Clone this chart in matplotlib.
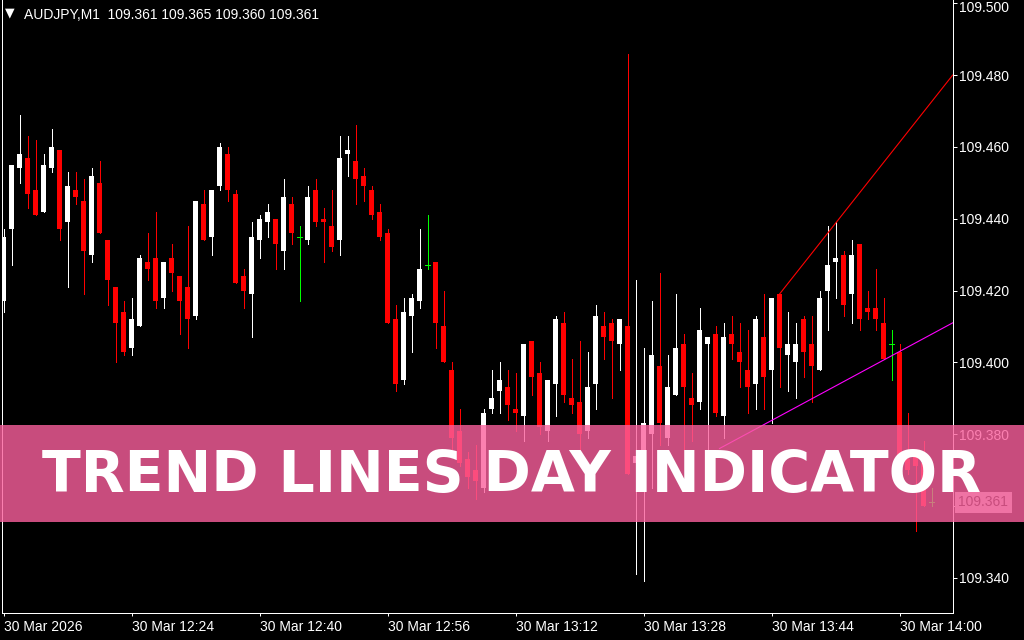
import matplotlib
matplotlib.use("Agg")
import numpy as np
import matplotlib.pyplot as plt
import matplotlib.transforms as mtransforms
from matplotlib.patches import Rectangle

plt.rcParams['font.family'] = ['Liberation Sans', 'DejaVu Sans']

W, H = 1024, 640

symbol = "AUDJPY,M1"
day_label = "30 Mar"
year_label = "2026"
first_minute = 12 * 60 + 8      # time of the first bar (12:08)
label_every = 16                # bars between time labels

# OHLC of the M1 bars, left to right
opens = [109.417, 109.437, 109.454, 109.457, 109.448, 109.442, 109.454, 109.459, 109.439, 109.448,
         109.445, 109.430, 109.450, 109.434, 109.421, 109.414, 109.404, 109.410, 109.428, 109.429,
         109.418, 109.429, 109.424, 109.421, 109.413, 109.444, 109.435, 109.449, 109.458, 109.447,
         109.424, 109.419, 109.434, 109.439, 109.440, 109.431, 109.444, 109.435, 109.434, 109.448,
         109.440, 109.438, 109.434, 109.458, 109.456, 109.452, 109.448, 109.442, 109.436, 109.412,
         109.395, 109.413, 109.417, 109.427, 109.428, 109.410, 109.398, 109.381, 109.373, 109.370,
         109.365, 109.387, 109.392, 109.393, 109.387, 109.385, 109.406, 109.397, 109.381, 109.394,
         109.411, 109.390, 109.389, 109.381, 109.394, 109.410, 109.411, 109.405, 109.410, 109.372,
         109.372, 109.380, 109.399, 109.379, 109.391, 109.405, 109.390, 109.389, 109.405, 109.408,
         109.385, 109.408, 109.403, 109.398, 109.394, 109.407, 109.398, 109.419, 109.402, 109.400,
         109.412, 109.405, 109.398, 109.420, 109.428, 109.430, 109.419, 109.433, 109.415, 109.415,
         109.411, 109.405, 109.403, 109.373, 109.374, 109.372, 109.361]
highs = [109.437, 109.455, 109.469, 109.463, 109.462, 109.458, 109.465, 109.459, 109.453, 109.453,
         109.451, 109.454, 109.456, 109.434, 109.421, 109.417, 109.418, 109.430, 109.436, 109.442,
         109.428, 109.433, 109.424, 109.438, 109.445, 109.448, 109.448, 109.461, 109.460, 109.448,
         109.426, 109.439, 109.441, 109.444, 109.440, 109.451, 109.446, 109.438, 109.449, 109.451,
         109.443, 109.448, 109.463, 109.463, 109.466, 109.454, 109.449, 109.444, 109.437, 109.416,
         109.418, 109.419, 109.437, 109.441, 109.428, 109.420, 109.400, 109.387, 109.375, 109.377,
         109.387, 109.398, 109.400, 109.398, 109.397, 109.405, 109.406, 109.400, 109.395, 109.413,
         109.414, 109.401, 109.406, 109.403, 109.416, 109.414, 109.412, 109.412, 109.486, 109.423,
         109.404, 109.417, 109.425, 109.402, 109.419, 109.408, 109.397, 109.415, 109.407, 109.410,
         109.411, 109.413, 109.411, 109.409, 109.413, 109.419, 109.418, 109.419, 109.414, 109.411,
         109.413, 109.413, 109.420, 109.438, 109.439, 109.431, 109.434, 109.433, 109.420, 109.426,
         109.418, 109.409, 109.405, 109.386, 109.376, 109.378, 109.365]
lows = [109.414, 109.427, 109.450, 109.443, 109.441, 109.442, 109.453, 109.434, 109.421, 109.444,
        109.419, 109.428, 109.436, 109.416, 109.400, 109.402, 109.402, 109.410, 109.423, 109.415,
        109.415, 109.420, 109.408, 109.404, 109.412, 109.434, 109.430, 109.448, 109.445, 109.422,
        109.415, 109.407, 109.429, 109.435, 109.426, 109.426, 109.433, 109.417, 109.433, 109.438,
        109.428, 109.431, 109.430, 109.452, 109.444, 109.445, 109.440, 109.434, 109.411, 109.392,
        109.394, 109.403, 109.415, 109.426, 109.404, 109.400, 109.376, 109.371, 109.365, 109.362,
        109.364, 109.386, 109.386, 109.384, 109.381, 109.378, 109.391, 109.380, 109.378, 109.385,
        109.389, 109.386, 109.376, 109.379, 109.387, 109.401, 109.390, 109.398, 109.369, 109.341,
        109.339, 109.365, 109.377, 109.377, 109.391, 109.376, 109.378, 109.387, 109.376, 109.385,
        109.379, 109.401, 109.393, 109.386, 109.387, 109.387, 109.383, 109.393, 109.392, 109.390,
        109.396, 109.389, 109.398, 109.409, 109.418, 109.413, 109.411, 109.409, 109.412, 109.409,
        109.401, 109.395, 109.372, 109.369, 109.353, 109.360, 109.360]
closes = [109.435, 109.455, 109.458, 109.447, 109.441, 109.455, 109.460, 109.437, 109.449, 109.446,
          109.431, 109.452, 109.436, 109.423, 109.411, 109.403, 109.412, 109.429, 109.426, 109.417,
          109.428, 109.425, 109.417, 109.412, 109.445, 109.434, 109.448, 109.460, 109.448, 109.422,
          109.420, 109.435, 109.440, 109.442, 109.433, 109.446, 109.436, 109.435, 109.446, 109.439,
          109.439, 109.432, 109.457, 109.459, 109.451, 109.449, 109.441, 109.435, 109.411, 109.394,
          109.414, 109.418, 109.426, 109.427, 109.411, 109.400, 109.379, 109.372, 109.368, 109.367,
          109.386, 109.390, 109.395, 109.388, 109.386, 109.405, 109.396, 109.382, 109.395, 109.412,
          109.391, 109.388, 109.380, 109.393, 109.413, 109.407, 109.406, 109.412, 109.369, 109.374,
          109.383, 109.402, 109.383, 109.393, 109.404, 109.393, 109.388, 109.409, 109.407, 109.386,
          109.407, 109.405, 109.400, 109.393, 109.412, 109.396, 109.418, 109.404, 109.405, 109.405,
          109.403, 109.399, 109.418, 109.427, 109.429, 109.416, 109.430, 109.412, 109.414, 109.412,
          109.401, 109.405, 109.373, 109.370, 109.371, 109.360, 109.361]

# trend lines drawn by the indicator (bar index, price)
upper_line_x = [97, 118.65]
upper_line_y = [109.419, 109.480]
lower_line_x = [89.5, 118.65]
lower_line_y = [109.376, 109.411]

price_ticks = [109.340, 109.360, 109.380, 109.400, 109.420, 109.440, 109.460, 109.480, 109.500]
banner_text = "TREND LINES DAY INDICATOR"

BULL = "#ffffff"
BEAR = "#ff0000"
DOJI = "#00ff00"
PX = 0.72  # one pixel in points at 100 dpi

o = np.array(opens)
h = np.array(highs)
l = np.array(lows)
c = np.array(closes)
x = np.arange(len(o))

fig = plt.figure(figsize=(W / 100, H / 100), dpi=100, facecolor="black")
ax = fig.add_axes([2 / W, 27 / H, 950.7 / W, 613 / H], facecolor="black")
ax.set_xlim(-0.1875, 118.65)
ax.set_ylim(109.3302, 109.5009)

# candles
half = 0.3125
for mask, col in ((c > o, BULL), (c < o, BEAR)):
    ax.vlines(x[mask], l[mask], h[mask], colors=col, lw=PX, antialiased=False)
    ax.bar(x[mask], np.abs(c[mask] - o[mask]), bottom=np.minimum(o, c)[mask],
           width=2 * half, color=col, linewidth=0, antialiased=False)
dj = c == o
ax.vlines(x[dj], l[dj], h[dj], colors=DOJI, lw=PX, antialiased=False)
ax.hlines(o[dj], x[dj] - half, x[dj] + half, colors=DOJI, lw=PX, antialiased=False)

# indicator lines
ax.plot(upper_line_x, upper_line_y, color="#ff0000", lw=0.8)
ax.plot(lower_line_x, lower_line_y, color="#ff00ff", lw=0.8)

# axes look like the terminal
for side in ("left", "right", "bottom"):
    ax.spines[side].set_color("white")
    ax.spines[side].set_linewidth(PX)
ax.spines["top"].set_visible(False)

ax.yaxis.tick_right()
ax.set_yticks(price_ticks)
ax.set_yticklabels(["%.3f" % p for p in price_ticks])
ax.tick_params(axis="y", colors="white", length=4 * PX, width=PX, pad=2, labelsize=10)
# top label sits a little lower so it is not cut by the window edge
top_lbl = ax.get_yticklabels()[-1]
top_lbl.set_transform(top_lbl.get_transform() +
                      mtransforms.ScaledTranslation(0, -3 / 100, fig.dpi_scale_trans))

tick_idx = list(range(0, len(o), label_every))
tick_lbl = []
for i in tick_idx:
    m = first_minute + i
    if i == 0:
        tick_lbl.append("%s %s" % (day_label, year_label))
    else:
        tick_lbl.append("%s %02d:%02d" % (day_label, m // 60, m % 60))
ax.set_xticks(tick_idx)
ax.set_xticklabels(tick_lbl)
ax.tick_params(axis="x", colors="white", length=3 * PX, width=PX, pad=3, labelsize=10)
for t in ax.get_xticklabels():
    t.set_ha("left")

# current price marker
ax.text(1.006, c[-1], "%.3f" % c[-1], transform=ax.get_yaxis_transform(),
        ha="left", va="center", fontsize=10, color="black",
        bbox=dict(boxstyle="square,pad=0.25", fc="#c0c0c0", ec="none"))

# header
fig.text(5 / W, 1 - 16 / H, "\u25bc", fontsize=9, color="white", family="DejaVu Sans")
fig.text(24 / W, 1 - 19 / H, "%s  %.3f %.3f %.3f %.3f" % (symbol, o[-1], h[-1], l[-1], c[-1]),
         fontsize=10, color="white")

# banner
fig.add_artist(Rectangle((0, 118 / H), 1, 97 / H, transform=fig.transFigure,
                         facecolor="#fb609d", edgecolor="none", alpha=0.8, zorder=10))
fig.text(511 / W, 1 - 491.7 / H, banner_text, ha="center", va="baseline",
         fontsize=41, fontweight="bold", family="DejaVu Sans", color="white", zorder=11)

fig.savefig("out.png", dpi=100, facecolor="black")
